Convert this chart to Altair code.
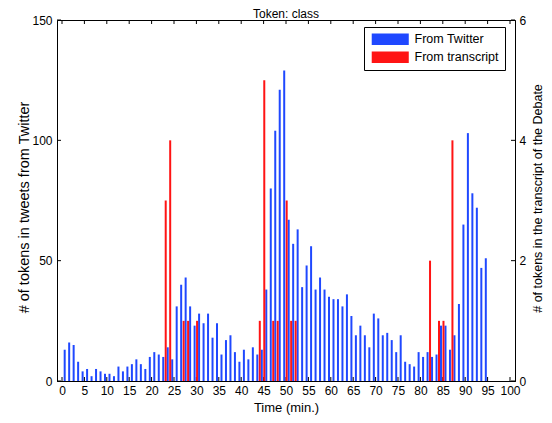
import altair as alt
import pandas as pd

# ---- data ----
tweet_minutes = list(range(1, 96))
tweet_counts = [13, 16, 15, 8, 4, 5, 2, 5, 4, 3,
                3, 2, 6, 4, 6, 7, 9, 7, 5, 10,
                12, 11, 10, 14, 9, 31, 40, 43, 31, 23,
                28, 24, 28, 18, 24, 11, 17, 19, 12, 8,
                13, 9, 14, 11, 13, 38, 80, 104, 121, 129,
                67, 57, 63, 39, 48, 56, 38, 43, 38, 35,
                34, 34, 31, 36, 27, 19, 23, 19, 14, 28,
                26, 19, 20, 17, 12, 19, 8, 7, 6, 12,
                10, 12, 10, 11, 23, 23, 13, 19, 32, 65,
                103, 78, 72, 47, 51]
transcript_minutes = [23, 24, 27, 28, 30, 44, 45, 47, 48, 50, 51, 52, 82, 84, 85, 87]
transcript_counts = [3, 4, 1, 1, 1, 1, 5, 1, 1, 3, 1, 1, 2, 1, 1, 4]
series_names = ["From Twitter", "From transcript"]
series_colors = ["#1f48ff", "#ff1414"]
x_ticks = list(range(0, 101, 5))
left_ticks = [0, 50, 100, 150]
right_ticks = [0, 2, 4, 6]
chart_title = ["Token: class"]

W, H = 458, 361
FONT = "Liberation Sans"

tw = pd.DataFrame({"minute": tweet_minutes, "count": tweet_counts, "series": series_names[0]})
tr = pd.DataFrame({"minute": transcript_minutes, "count": transcript_counts, "series": series_names[1]})
xt = pd.DataFrame({"pos": x_ticks})
lt = pd.DataFrame({"count": left_ticks})
rt = pd.DataFrame({"count": right_ticks})
tt = pd.DataFrame({"label": chart_title})

x_enc = alt.X("pos:Q",
              scale=alt.Scale(domain=[0, 100], nice=False, zero=False),
              axis=alt.Axis(values=x_ticks, title="Time (min.)", ticks=False, tickSize=0,
                            labelPadding=4, titleFontSize=13, titleY=26,
                            titleBaseline="middle", labelFlush=False))
yl_enc = alt.Y("count:Q",
               scale=alt.Scale(domain=[0, 150], nice=False),
               axis=alt.Axis(orient="left", values=left_ticks, ticks=False, tickSize=0,
                             title="# of tokens in tweets from Twitter",
                             labelPadding=5, titleFontSize=14.5, titleX=-33, titleY=187,
                             titleAngle=270, titleAlign="center", titleBaseline="middle"))
yr_enc = alt.Y("count:Q",
               scale=alt.Scale(domain=[0, 6], nice=False),
               axis=alt.Axis(orient="right", values=right_ticks, ticks=False, tickSize=0,
                             title="# of tokens in the transcript of the Debate",
                             labelPadding=4, titleFontSize=12.5, titleX=22, titleY=178,
                             titleAngle=270, titleAlign="center", titleBaseline="middle"))

color_enc = alt.Color("series:N",
                      scale=alt.Scale(domain=series_names, range=series_colors),
                      legend=alt.Legend(title=None, orient="none", legendX=307, legendY=7,
                                        direction="vertical",
                                        symbolType="M-3.2,-1H3.2V1H-3.2Z", symbolSize=134,
                                        symbolOffset=14, labelOffset=18,
                                        symbolStrokeWidth=0, symbolOpacity=1,
                                        strokeColor="black", fillColor="white",
                                        padding=6, rowPadding=5, labelFontSize=12.5,
                                        labelColor="black", labelFont=FONT))

blue = alt.Chart(tw).transform_calculate(pos="datum.minute - 0.4").mark_bar(size=2).encode(
    x=x_enc, y=yl_enc, color=color_enc)

bottom_ticks = alt.Chart(xt).mark_rule(color="black", strokeWidth=1).encode(
    x=x_enc, y=alt.value(H), y2=alt.value(H - 4))
top_ticks = alt.Chart(xt).mark_rule(color="black", strokeWidth=1).encode(
    x=x_enc, y=alt.value(0), y2=alt.value(4))
left_tick_marks = alt.Chart(lt).mark_rule(color="black", strokeWidth=1).encode(
    y=yl_enc, x=alt.value(0), x2=alt.value(4))
title_text = alt.Chart(tt).mark_text(fontSize=12, font=FONT, color="black",
                                     align="center", baseline="alphabetic").encode(
    text="label:N", x=alt.value(W / 2), y=alt.value(-2))

red = alt.Chart(tr).transform_calculate(pos="datum.minute + 0.15").mark_bar(size=2).encode(
    x=x_enc, y=yr_enc, color=color_enc)
right_tick_marks = alt.Chart(rt).mark_rule(color="black", strokeWidth=1).encode(
    y=yr_enc, x=alt.value(W - 4), x2=alt.value(W))

left_layer = alt.layer(blue, bottom_ticks, top_ticks, left_tick_marks, title_text)
right_layer = alt.layer(red, right_tick_marks)

chart = alt.layer(left_layer, right_layer).resolve_scale(y="independent").properties(
    width=W, height=H,
    autosize=alt.AutoSizeParams(type="none"),
    padding={"left": 49, "top": 12, "right": 29, "bottom": 34},
).configure(font=FONT).configure_view(
    stroke="black", strokeWidth=1
).configure_axis(
    labelFont=FONT, titleFont=FONT, labelFontSize=12, titleFontSize=12,
    labelColor="black", titleColor="black", titleFontWeight="normal",
    domainColor="black", domainWidth=1, grid=False
)

chart.save("out.html", embed_options={"renderer": "svg", "actions": False})
